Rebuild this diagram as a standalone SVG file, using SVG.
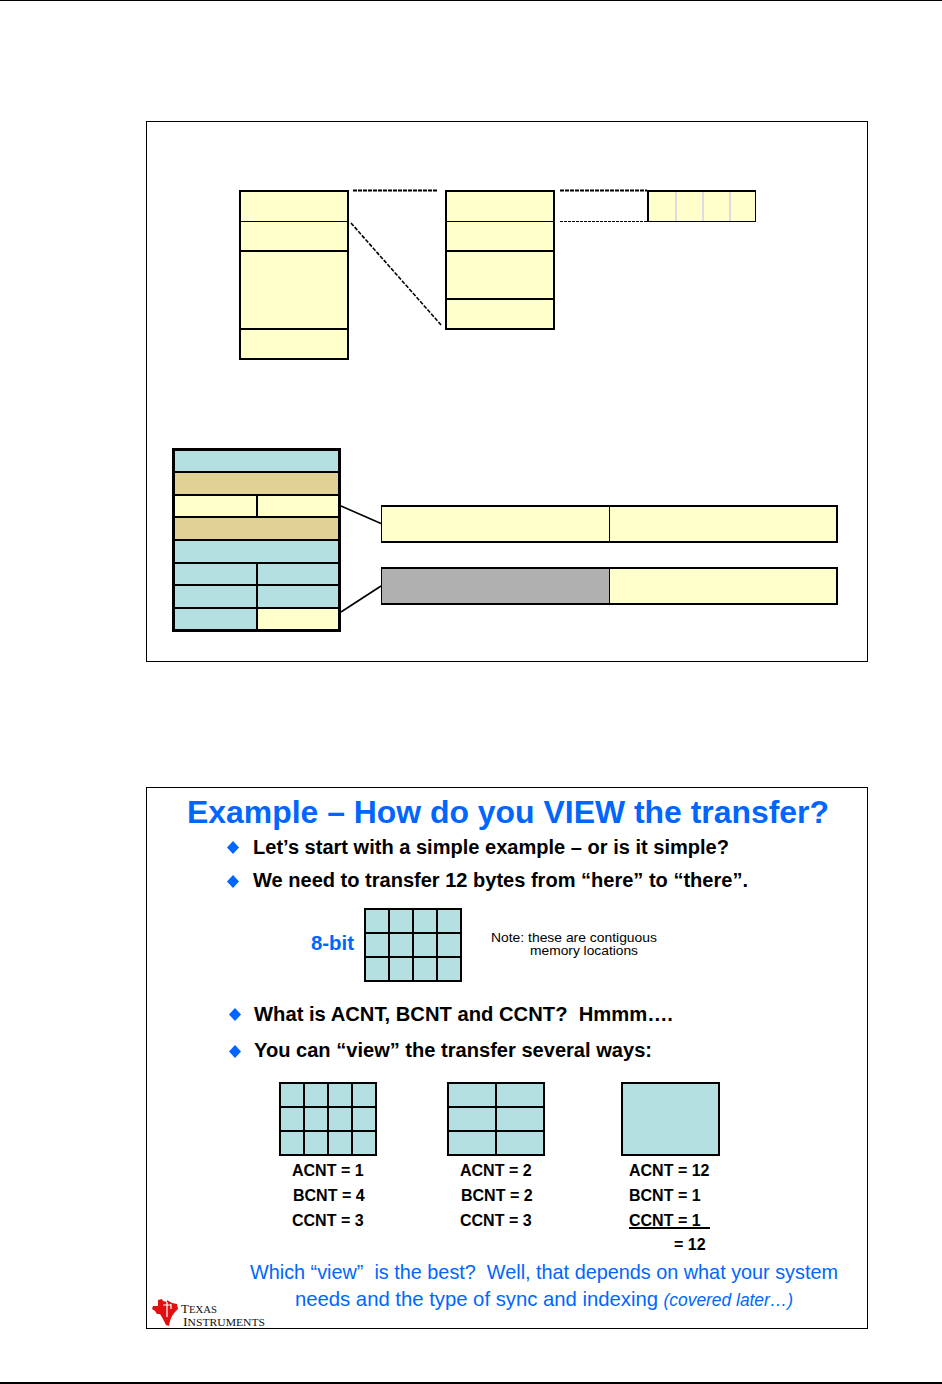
<svg xmlns="http://www.w3.org/2000/svg" width="942" height="1384" viewBox="0 0 942 1384">
<style>
.frame{fill:#fff;stroke:#000;stroke-width:1}
.y{fill:#ffffcc}.b{fill:#b5e0e2}.t{fill:#e2d195}.g{fill:#b0b0b0}
.l2{stroke:#000;stroke-width:2;fill:none}
.l1{stroke:#000;stroke-width:1;fill:none}
.l15{stroke:#000;stroke-width:1.6;fill:none}
.d{stroke:#000;stroke-width:1;fill:none;stroke-dasharray:3 1}
.dk{stroke:#000;stroke-width:2;fill:none;stroke-dasharray:4 1}
.dg{stroke:#000;stroke-width:1.6;fill:none;stroke-dasharray:4 1.500}
.v{stroke:#dcdce4;stroke-width:2;fill:none}
text{font-family:"Liberation Sans",Arial,sans-serif;white-space:pre}
.h{font-size:32px;font-weight:bold;fill:#0066ff}
.bt{font-size:20px;font-weight:bold;fill:#000}
.c{font-size:16px;font-weight:bold;fill:#000}
.n{font-size:13px;fill:#000}
.q{font-size:21px;fill:#0066ff}
.m{fill:#0066ff}
.ti{font-family:"Liberation Serif",serif;fill:#111}
</style>
<rect width="942" height="1384" fill="#fff"/>
<rect x="0" y="0" width="942" height="1" fill="#000"/>
<rect x="0" y="1382" width="942" height="2" fill="#000"/>
<rect id="frame-top" class="frame" x="146.5" y="121.5" width="721" height="540"/>
<rect id="frame-bottom" class="frame" x="146.5" y="787.5" width="721" height="541"/>

<g id="connectors">
<line class="dk" x1="353" y1="190.5" x2="438" y2="190.5"/>
<line class="dk" x1="560" y1="190.5" x2="647" y2="190.5"/>
<line class="d" x1="560" y1="221.500" x2="647" y2="221.500"/>
<line class="dg" x1="351" y1="223" x2="442" y2="326"/>
<line class="l15" x1="341" y1="506" x2="381" y2="523.5"/>
<line class="l15" x1="341" y1="612" x2="381" y2="586"/>
</g>

<g id="stack-a">
<rect class="l2" x="240" y="191" width="108" height="168" style="fill:#ffffcc"/>
<line class="l1" x1="240" y1="221.500" x2="348" y2="221.500"/>
<line class="l2" x1="240" y1="251" x2="348" y2="251"/>
<line class="l2" x1="240" y1="329" x2="348" y2="329"/>
</g>
<g id="stack-b">
<rect class="l2" x="446" y="191" width="108" height="138" style="fill:#ffffcc"/>
<line class="l1" x1="446" y1="221.500" x2="554" y2="221.500"/>
<line class="l2" x1="446" y1="251" x2="554" y2="251"/>
<line class="l2" x1="446" y1="299" x2="554" y2="299"/>
</g>
<g id="stack-c">
<rect class="y" x="648" y="191" width="108" height="30"/>
<line class="v" x1="676" y1="191" x2="676" y2="221"/>
<line class="v" x1="703" y1="191" x2="703" y2="221"/>
<line class="v" x1="730" y1="191" x2="730" y2="221"/>
<line class="l2" x1="647" y1="191" x2="756" y2="191"/>
<line class="l2" x1="648" y1="190" x2="648" y2="222"/>
<line class="l1" x1="648" y1="221.500" x2="756" y2="221.500"/>
<line class="l1" x1="755.500" y1="190" x2="755.500" y2="222"/>
</g>

<g id="param-table">
<rect class="b" x="173" y="449" width="167" height="23"/>
<rect class="t" x="173" y="472" width="167" height="23"/>
<rect class="y" x="173" y="495" width="167" height="22"/>
<rect class="t" x="173" y="517" width="167" height="23"/>
<rect class="b" x="173" y="540" width="167" height="92"/>
<rect class="y" x="257" y="608" width="83" height="23"/>
<path class="l2" d="M173 472H340M173 495H340M173 517H340M173 540H340M173 563H340M173 585H340M173 608H340M257 495V517M257 563V631"/>
<rect x="173.500" y="449.500" width="166" height="181" fill="none" stroke="#000" stroke-width="3"/>
</g>
<g id="bar-top">
<rect class="y" x="382" y="506" width="455" height="36"/>
<path class="l1" d="M609.500 506V542M381.500 506V542"/>
<path class="l2" d="M381 506H838M381 542H838M837 505V543"/>
</g>
<g id="bar-bottom">
<rect class="g" x="382" y="568" width="228" height="36"/>
<rect class="y" x="610" y="568" width="227" height="36"/>
<path class="l1" d="M609.500 568V604M381.500 568V604"/>
<path class="l2" d="M381 568H838M381 604H838M837 567V605"/>
</g>

<g id="title"><text class="h" x="187" y="823" textLength="642" lengthAdjust="spacingAndGlyphs">Example – How do you VIEW the transfer?</text></g>
<g id="bullets">
<path class="m" d="M233 841l6 6.500-6 6.500-6-6.500z"/>
<text class="bt" x="253" y="854" textLength="476" lengthAdjust="spacingAndGlyphs">Let’s start with a simple example – or is it simple?</text>
<path class="m" d="M233 875l6 6.500-6 6.500-6-6.500z"/>
<text class="bt" x="253" y="887" textLength="495" lengthAdjust="spacingAndGlyphs">We need to transfer 12 bytes from “here” to “there”.</text>
<path class="m" d="M235 1008l6 6.500-6 6.500-6-6.500z"/>
<text class="bt" x="254" y="1021" textLength="419" lengthAdjust="spacingAndGlyphs">What is ACNT, BCNT and CCNT?  Hmmm….</text>
<path class="m" d="M235 1045l6 6.500-6 6.500-6-6.500z"/>
<text class="bt" x="254" y="1057" textLength="398" lengthAdjust="spacingAndGlyphs">You can “view” the transfer several ways:</text>
</g>
<g id="grid-8bit">
<text class="bt" x="311" y="950" textLength="43" lengthAdjust="spacingAndGlyphs" style="fill:#0066ff">8-bit</text>
<rect class="b" x="365" y="909" width="96" height="72"/>
<path class="l2" d="M365 933H461M365 957H461M389 909V981M413 909V981M437 909V981"/>
<rect x="365" y="909" width="96" height="72" fill="none" stroke="#000" stroke-width="2"/>
<text class="n" x="491" y="942" textLength="166" lengthAdjust="spacingAndGlyphs">Note: these are contiguous</text>
<text class="n" x="530" y="955" textLength="108" lengthAdjust="spacingAndGlyphs">memory locations</text>
</g>
<g id="view-1">
<rect class="b" x="280" y="1083" width="96" height="72"/>
<path class="l2" d="M280 1107H376M280 1131H376M304 1083V1155M328 1083V1155M352 1083V1155"/>
<rect x="280" y="1083" width="96" height="72" fill="none" stroke="#000" stroke-width="2"/>
<text class="c" x="292" y="1176">ACNT = 1</text>
<text class="c" x="293" y="1201">BCNT = 4</text>
<text class="c" x="292" y="1226">CCNT = 3</text>
</g>
<g id="view-2">
<rect class="b" x="448" y="1083" width="96" height="72"/>
<path class="l2" d="M448 1107H544M448 1131H544M496 1083V1155"/>
<rect x="448" y="1083" width="96" height="72" fill="none" stroke="#000" stroke-width="2"/>
<text class="c" x="460" y="1176">ACNT = 2</text>
<text class="c" x="461" y="1201">BCNT = 2</text>
<text class="c" x="460" y="1226">CCNT = 3</text>
</g>
<g id="view-3">
<rect class="b" x="622" y="1083" width="97" height="72"/>
<rect x="622" y="1083" width="97" height="72" fill="none" stroke="#000" stroke-width="2"/>
<text class="c" x="629" y="1176">ACNT = 12</text>
<text class="c" x="629" y="1201">BCNT = 1</text>
<text class="c" x="629" y="1226">CCNT = 1</text>
<line class="l2" x1="629" y1="1228" x2="710" y2="1228"/>
<text class="c" x="674" y="1250">= 12</text>
</g>
<g id="question">
<text class="q" x="250" y="1279" textLength="588" lengthAdjust="spacingAndGlyphs">Which “view”  is the best?  Well, that depends on what your system</text>
<text class="q" x="295" y="1306" textLength="498" lengthAdjust="spacingAndGlyphs">needs and the type of sync and indexing <tspan font-style="italic" font-size="18">(covered later…)</tspan></text>
</g>
<g id="logo">
<path fill="#e01010" d="M153 1306l5 0 0-6 4-1 1 2 4 1 0-2 5 3 5 1 1 5-3 3-3 4-2 5-1 5-3-1-3-6-3-5-3 0-2-3-3-2z"/>
<path d="M167 1302v15M163 1305h8M171 1304v5" stroke="#fff" stroke-width="1.200" fill="none"/>
<text class="ti" x="181" y="1313" font-size="12" textLength="36" lengthAdjust="spacingAndGlyphs">T<tspan font-size="10">EXAS</tspan></text>
<text class="ti" x="183" y="1326" font-size="12" textLength="82" lengthAdjust="spacingAndGlyphs">I<tspan font-size="10">NSTRUMENTS</tspan></text>
</g>
</svg>
